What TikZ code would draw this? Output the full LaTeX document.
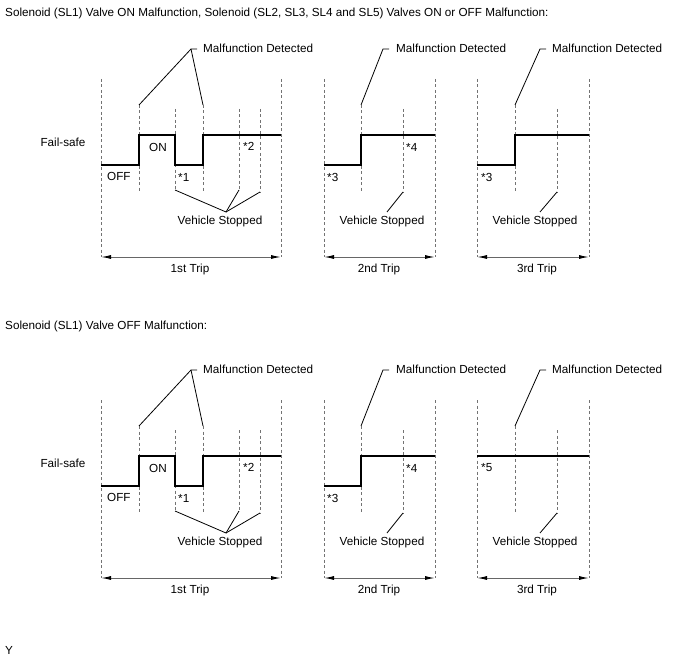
\documentclass[tikz,border=0pt]{standalone}
\usepackage{fontspec}
\setmainfont{Liberation Sans}
\usetikzlibrary{arrows.meta}
\tikzset{
  dline/.style={draw=black!55, dash pattern=on 3pt off 2.5pt, line width=0.7pt},
  sig/.style={draw=black, line width=1.5pt},
  lead/.style={draw=black, line width=0.8pt},
  lbl/.style={inner sep=0pt, font=\fontsize{11.7}{14}\selectfont},
  triparrow/.style={draw=black!60, line width=1pt, {Latex[length=10pt,width=4pt,black]}-{Latex[length=10pt,width=4pt,black]}},
}
\newcommand\tripset[2]{%
  \foreach \n/\x/\t/\b in {A/101/79/257, B/139/105/192, C/175/109/190, D/203/105/192, E/239/109/190, F/260/109/192, G/281/79/257,
                           H/324/79/257, I/361/105/192, J/403/109/192, K/435/79/257,
                           L/477/79/257, M/515/105/192, N/557/109/192, O/589/79/257}{
    \coordinate (#1\n t) at (\x,\t);
    \coordinate (#1\n b) at (\x,\b);
    \draw[dline] (#1\n t) -- (#1\n b);
  }
  \coordinate (#1lo) at (0,165);
  \coordinate (#1hi) at (0,135);
  \draw[sig] (#1At |- #1lo) -- (#1Bt |- #1lo) -- (#1Bt |- #1hi) -- (#1Ct |- #1hi) -- (#1Ct |- #1lo)
     -- (#1Dt |- #1lo) -- (#1Dt |- #1hi) -- (#1Gt |- #1hi);
  \draw[sig] (#1Ht |- #1lo) -- (#1It |- #1lo) -- (#1It |- #1hi) -- (#1Kt |- #1hi);
  \ifnum#2=1
    \draw[sig] (#1Lt |- #1lo) -- (#1Mt |- #1lo) -- (#1Mt |- #1hi) -- (#1Ot |- #1hi);
    \node[lbl, anchor=west] (#1s3b) at (481,177) {*3};
  \else
    \draw[sig] (#1Lt |- #1hi) -- (#1Ot |- #1hi);
    \node[lbl, anchor=west] (#1s5) at (481,147) {*5};
  \fi
  \node[lbl] (#1fs) at (63,142) {Fail-safe};
  \node[lbl, anchor=west] (#1off) at (107,176) {OFF};
  \node[lbl] (#1on) at (158,147) {ON};
  \node[lbl, anchor=west] (#1s1) at (178,177) {*1};
  \node[lbl, anchor=west] (#1s2) at (243,146) {*2};
  \node[lbl, anchor=west] (#1s3) at (327,177) {*3};
  \node[lbl, anchor=west] (#1s4) at (406,147) {*4};
  \coordinate (#1m1) at (191,49);
  \coordinate (#1m2) at (383,49);
  \coordinate (#1m3) at (540,49);
  \node[lbl, anchor=west] (#1md1) at (203,48) {Malfunction Detected};
  \node[lbl, anchor=west] (#1md2) at (396,48) {Malfunction Detected};
  \node[lbl, anchor=west] (#1md3) at (552,48) {Malfunction Detected};
  \draw[lead] (#1Bt) -- (#1m1) -- ++(6,0);
  \draw[lead] (#1Dt) -- (#1m1);
  \draw[lead] (#1It) -- (#1m2) -- ++(6,0);
  \draw[lead] (#1Mt) -- (#1m3) -- ++(6,0);
  \node[lbl] (#1vs1) at (220,221) {Vehicle Stopped};
  \node[lbl] (#1vs2) at (382,221) {Vehicle Stopped};
  \node[lbl] (#1vs3) at (535,221) {Vehicle Stopped};
  \coordinate (#1v1) at (226,212);
  \coordinate (#1v2) at (387,212);
  \coordinate (#1v3) at (540,212);
  \draw[lead] (#1Cb) -- (#1v1) -- (#1Eb);
  \draw[lead] (#1v1) -- (#1Fb);
  \draw[lead] (#1Jb) -- (#1v2);
  \draw[lead] (#1Nb) -- (#1v3);
  \draw[triparrow] (#1Ab) -- (#1Gb);
  \draw[triparrow] (#1Hb) -- (#1Kb);
  \draw[triparrow] (#1Lb) -- (#1Ob);
  \node[lbl] (#1t1) at (190,269) {1st Trip};
  \node[lbl] (#1t2) at (379,269) {2nd Trip};
  \node[lbl] (#1t3) at (537,269) {3rd Trip};
}
\begin{document}
\begin{tikzpicture}[x=1pt,y=-1pt]
  \useasboundingbox (0,0) rectangle (688,658);
  \node[lbl, anchor=west] (title1) at (5,13) {Solenoid (SL1) Valve ON Malfunction, Solenoid (SL2, SL3, SL4 and SL5) Valves ON or OFF Malfunction:};
  \node[lbl, anchor=west] (title2) at (5,326) {Solenoid (SL1) Valve OFF Malfunction:};
  \tripset{p}{1}
  \begin{scope}[yshift=-321pt]
    \tripset{q}{0}
  \end{scope}
  \node[lbl, anchor=west] (ylab) at (5,650) {Y};
\end{tikzpicture}
\end{document}
